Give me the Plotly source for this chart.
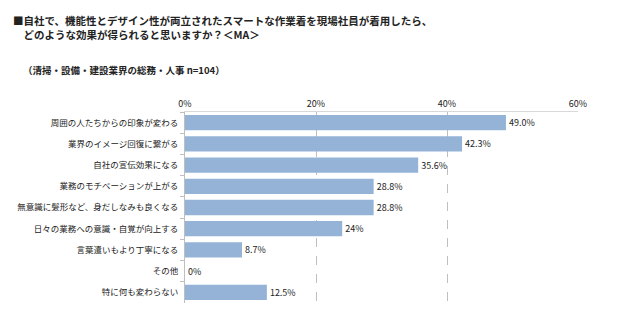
import plotly.graph_objects as go

categories = [
    "周囲の人たちからの印象が変わる",
    "業界のイメージ回復に繋がる",
    "自社の宣伝効果になる",
    "業務のモチベーションが上がる",
    "無意識に髪形など、身だしなみも良くなる",
    "日々の業務への意識・自覚が向上する",
    "言葉遣いもより丁寧になる",
    "その他",
    "特に何も変わらない",
]
values = [49.0, 42.3, 35.6, 28.8, 28.8, 24.0, 8.7, 0.0, 12.5]
value_labels = ["49.0%", "42.3%", "35.6%", "28.8%", "28.8%", "24%", "8.7%", "0%", "12.5%"]
tick_vals = [0, 20, 40, 60]
tick_text = ["0%", "20%", "40%", "60%"]

FONT = "Noto Sans CJK JP"

fig = go.Figure(go.Bar(
    x=values,
    y=categories,
    orientation="h",
    marker=dict(color="#95B3D7", line=dict(width=0)),
    width=0.72,
    text=value_labels,
    textposition="outside",
    cliponaxis=False,
    textfont=dict(family=FONT, size=9, color="#222222"),
))

fig.update_layout(
    width=640, height=329,
    margin=dict(l=185, r=62, t=112, b=26, autoexpand=False),
    paper_bgcolor="white", plot_bgcolor="white",
    showlegend=False,
    font=dict(family=FONT, size=9, color="#222222"),
    xaxis=dict(
        side="top", range=[0, 60], tickvals=tick_vals, ticktext=tick_text,
        showgrid=True, gridcolor="#BFBFBF", griddash="dash", gridwidth=1,
        showline=True, linecolor="#D9D9D9", linewidth=1, mirror=False,
        zeroline=False, ticks="", tickfont=dict(family=FONT, size=9, color="#222222"),
        automargin=False,
    ),
    yaxis=dict(
        autorange="reversed", showline=True, linecolor="#BFBFBF", linewidth=1,
        ticks="outside", tickson="boundaries", ticklen=4, tickcolor="#BFBFBF",
        showgrid=False, tickfont=dict(family=FONT, size=8.5, color="#222222"),
        ticklabelstandoff=4, automargin=False,
    ),
)

fig.add_annotation(
    x=-0.443, y=1.53, xref="paper", yref="paper", xanchor="left", yanchor="top",
    showarrow=False, align="left",
    text="<b>■自社で、機能性とデザイン性が両立されたスマートな作業着を現場社員が着用したら、</b><br><b>　どのような効果が得られると思いますか？＜MA＞</b>",
    font=dict(family=FONT, size=10.5, color="#222222"),
)
fig.add_annotation(
    x=-0.418, y=1.22, xref="paper", yref="paper", xanchor="left", yanchor="middle",
    showarrow=False, align="left",
    text="<b>（清掃・設備・建設業界の総務・人事 n=104）</b>",
    font=dict(family=FONT, size=9.5, color="#222222"),
)

fig.write_html("out.html")
